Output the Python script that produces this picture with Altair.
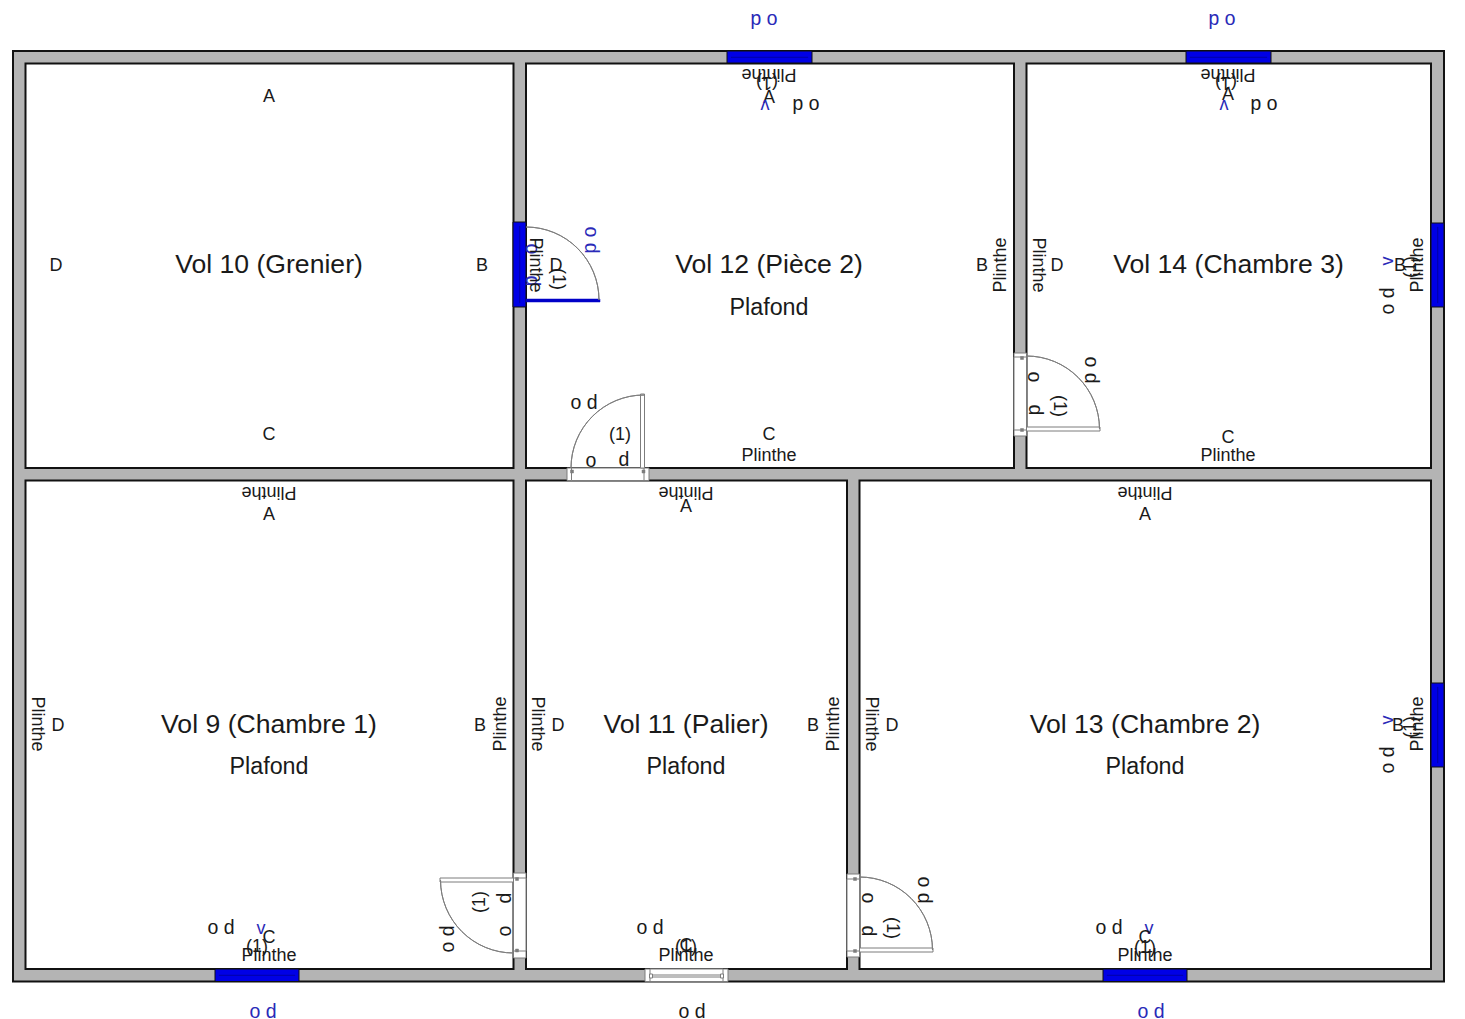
import altair as alt
import pandas as pd

FONT = "Liberation Sans"
BLACK = "#1a1a1a"
BLUE = "#2a2ab8"
WALL = "#b4b4b4"
WIN = "#0000e6"
WIN2 = "#0000a8"
GR = "#7d7d7d"

# x0, x1, y0, y1, fill, stroke, stroke width
walls = [(13, 1444, 51, 981.5, WALL, "#111111", 2)]
rooms = [
    (25.5, 513.5, 63.5, 468, "#ffffff", "#111111", 2),
    (526, 1014, 63.5, 468, "#ffffff", "#111111", 2),
    (1026.5, 1431, 63.5, 468, "#ffffff", "#111111", 2),
    (25.5, 513.5, 480.5, 969, "#ffffff", "#111111", 2),
    (526, 847, 480.5, 969, "#ffffff", "#111111", 2),
    (859.5, 1431, 480.5, 969, "#ffffff", "#111111", 2),
]
windows = [
    (727, 812, 51, 63, WIN, "#111111", 1),
    (1186, 1271, 51, 63, WIN, "#111111", 1),
    (513, 526, 222, 307, WIN, "#111111", 1),
    (1431, 1444, 223, 307, WIN, "#111111", 1),
    (1431, 1444, 683, 767, WIN, "#111111", 1),
    (215, 299, 969, 981.5, WIN, "#111111", 1),
    (1103, 1187, 969, 981.5, WIN, "#111111", 1),
]
window_lines = [
    (731, 808, 57, 57.5, WIN2, WIN2, 0.5),
    (1190, 1267, 57, 57.5, WIN2, WIN2, 0.5),
    (519.5, 520, 226, 303, WIN2, WIN2, 0.5),
    (1437.5, 1438, 227, 303, WIN2, WIN2, 0.5),
    (1437.5, 1438, 687, 763, WIN2, WIN2, 0.5),
    (219, 295, 975, 975.5, WIN2, WIN2, 0.5),
    (1107, 1183, 975, 975.5, WIN2, WIN2, 0.5),
]
frames = [
    (567, 649, 468, 480.5, "#ffffff", GR, 1),
    (571.5, 644, 468, 480.5, "#ffffff", GR, 1),
    (1014, 1026.5, 353, 436, "#ffffff", GR, 1),
    (1014, 1026.5, 357, 430, "#ffffff", GR, 1),
    (513.5, 526, 873, 958, "#ffffff", GR, 1),
    (513.5, 526, 878, 951, "#ffffff", GR, 1),
    (847, 859.5, 874, 957, "#ffffff", GR, 1),
    (847, 859.5, 879, 951, "#ffffff", GR, 1),
    (645, 728, 969, 981.5, "#ffffff", GR, 1),
    (650, 723, 969, 981.5, "#ffffff", GR, 1),
    (650, 723, 975, 977, "#ffffff", GR, 1),
]
hinges = [
    (570.5, 573.5, 470, 473, GR, GR, 0.5),
    (642, 645, 470, 473, GR, GR, 0.5),
    (1020.5, 1023.5, 356.5, 359.5, GR, GR, 0.5),
    (1020.5, 1023.5, 428.5, 431.5, GR, GR, 0.5),
    (515.5, 518.5, 877.5, 880.5, GR, GR, 0.5),
    (515.5, 518.5, 949, 952, GR, GR, 0.5),
    (853.5, 856.5, 877.5, 880.5, GR, GR, 0.5),
    (853.5, 856.5, 949.5, 952.5, GR, GR, 0.5),
    (649.5, 652.5, 974, 978, "#ffffff", GR, 1),
    (720.5, 723.5, 974, 978, "#ffffff", GR, 1),
]
leaves = [
    (526, 600, 299, 302, "#0000c8", "#0000c8", 0.5),
    (640.5, 644.5, 394, 468, "#ffffff", GR, 1),
    (1026.5, 1100, 427, 431, "#ffffff", GR, 1),
    (440, 513.5, 878, 882, "#ffffff", GR, 1),
    (859.5, 933, 948, 952, "#ffffff", GR, 1),
]
rects = walls + rooms + windows + window_lines + frames + hinges + leaves
rect_df = pd.DataFrame(rects, columns=["x0", "x1", "y0", "y1", "fill", "stroke", "sw"])
rect_df["order"] = range(len(rect_df))

# hinge x, hinge y, start angle, end angle (radians, clockwise from up), radius
PI = 3.14159265
door_arcs = [
    (526, 300, 0, PI / 2, 73),
    (644, 468, -PI / 2, 0, 73),
    (1026.5, 429, 0, PI / 2, 73),
    (513.5, 880, PI, 3 * PI / 2, 73),
    (859.5, 950, 0, PI / 2, 73),
]
arc_df = pd.DataFrame(door_arcs, columns=["x", "y", "t0", "t1", "r"])

OD = 19.5
# text, x, y, angle, colour, size
labels = [
    ("Vol 10 (Grenier)", 269, 263, 0, BLACK, 26.6),
    ("Vol 12 (Pièce 2)", 769, 263, 0, BLACK, 26.6),
    ("Vol 14 (Chambre 3)", 1228.5, 263, 0, BLACK, 26.6),
    ("Vol 9 (Chambre 1)", 269, 723, 0, BLACK, 26.6),
    ("Vol 11 (Palier)", 686, 723, 0, BLACK, 26.6),
    ("Vol 13 (Chambre 2)", 1145, 723, 0, BLACK, 26.6),
    ("Plafond", 769, 306, 0, BLACK, 23.3),
    ("Plafond", 269, 765, 0, BLACK, 23.3),
    ("Plafond", 686, 765, 0, BLACK, 23.3),
    ("Plafond", 1145, 765, 0, BLACK, 23.3),
    # Vol 10
    ("A", 269, 95, 0, BLACK, 18), ("D", 56, 264, 0, BLACK, 18),
    ("B", 482, 264, 0, BLACK, 18), ("C", 269, 433, 0, BLACK, 18),
    # Vol 12
    ("Plinthe", 769, 75, 180, BLACK, 18), ("(1)", 767, 83, 180, BLACK, 18),
    ("A", 769, 96, 0, BLACK, 18), ("v", 765, 106, 180, BLUE, 18),
    ("o d", 806, 106, 180, BLACK, OD), ("o d", 764, 21, 180, BLUE, OD),
    ("o d", 592, 240, 90, BLUE, OD), ("o", 533, 249, 90, BLUE, OD),
    ("d", 533, 281, 90, BLUE, OD), ("Plinthe", 536, 265, 90, BLACK, 18),
    ("D", 556, 264, 0, BLACK, 18), ("(1)", 559, 279, 90, BLACK, 18),
    ("B", 982, 264, 0, BLACK, 18), ("Plinthe", 999, 265, 270, BLACK, 18),
    ("C", 769, 433, 0, BLACK, 18), ("Plinthe", 769, 454, 0, BLACK, 18),
    ("o d", 584, 401, 0, BLACK, OD), ("(1)", 620, 433, 0, BLACK, 18),
    ("o", 591, 459, 0, BLACK, OD), ("d", 624, 458, 0, BLACK, OD),
    # Vol 14
    ("Plinthe", 1228, 75, 180, BLACK, 18), ("(1)", 1226, 83, 180, BLACK, 18),
    ("A", 1228, 93, 0, BLACK, 18), ("v", 1224, 106, 180, BLUE, 18),
    ("o d", 1264, 106, 180, BLACK, OD), ("o d", 1222, 21, 180, BLUE, OD),
    ("Plinthe", 1039, 265, 90, BLACK, 18), ("D", 1057, 264, 0, BLACK, 18),
    ("v", 1386, 261, 270, BLUE, 18), ("B", 1400, 264, 0, BLACK, 18),
    ("(1)", 1409, 267, 270, BLACK, 18), ("Plinthe", 1416, 265, 270, BLACK, 18),
    ("o d", 1386, 301, 270, BLACK, OD),
    ("C", 1228, 436, 0, BLACK, 18), ("Plinthe", 1228, 454, 0, BLACK, 18),
    ("o d", 1092, 370, 90, BLACK, OD), ("o", 1035, 377, 90, BLACK, OD),
    ("d", 1036, 410, 90, BLACK, OD), ("(1)", 1060, 406, 90, BLACK, 18),
    # Vol 9
    ("Plinthe", 269, 493, 180, BLACK, 18), ("A", 269, 513, 0, BLACK, 18),
    ("Plinthe", 38, 724, 90, BLACK, 18), ("D", 58, 724, 0, BLACK, 18),
    ("B", 480, 724, 0, BLACK, 18), ("Plinthe", 499, 724, 270, BLACK, 18),
    ("o d", 221, 926, 0, BLACK, OD), ("v", 261, 927, 0, BLUE, 18),
    ("C", 269, 936, 0, BLACK, 18), ("(1)", 257, 945, 0, BLACK, 18),
    ("Plinthe", 269, 954, 0, BLACK, 18), ("o d", 263, 1010, 0, BLUE, OD),
    ("o d", 446, 939, 270, BLACK, OD), ("(1)", 478, 902, 270, BLACK, 18),
    ("d", 503, 898, 270, BLACK, OD), ("o", 503, 931, 270, BLACK, OD),
    # Vol 11
    ("Plinthe", 686, 493, 180, BLACK, 18), ("A", 686, 505, 0, BLACK, 18),
    ("Plinthe", 538, 724, 90, BLACK, 18), ("D", 558, 724, 0, BLACK, 18),
    ("B", 813, 724, 0, BLACK, 18), ("Plinthe", 832, 724, 270, BLACK, 18),
    ("o d", 650, 926, 0, BLACK, OD), ("C", 686, 944, 0, BLACK, 18),
    ("(1)", 686, 945, 0, BLACK, 18), ("Plinthe", 686, 954, 0, BLACK, 18),
    ("o d", 692, 1010, 0, BLACK, OD),
    # Vol 13
    ("Plinthe", 1145, 493, 180, BLACK, 18), ("A", 1145, 513, 0, BLACK, 18),
    ("Plinthe", 872, 724, 90, BLACK, 18), ("D", 892, 724, 0, BLACK, 18),
    ("v", 1386, 720, 270, BLUE, 18), ("B", 1398, 724, 0, BLACK, 18),
    ("(1)", 1409, 727, 270, BLACK, 18), ("Plinthe", 1416, 724, 270, BLACK, 18),
    ("o d", 1386, 760, 270, BLACK, OD),
    ("o d", 1109, 926, 0, BLACK, OD), ("v", 1149, 927, 0, BLUE, 18),
    ("C", 1145, 936, 0, BLACK, 18), ("(1)", 1145, 946, 0, BLACK, 18),
    ("Plinthe", 1145, 954, 0, BLACK, 18), ("o d", 1151, 1010, 0, BLUE, OD),
    ("o d", 925, 890, 90, BLACK, OD), ("o", 869, 898, 90, BLACK, OD),
    ("d", 869, 931, 90, BLACK, OD), ("(1)", 893, 928, 90, BLACK, 18),
]
text_df = pd.DataFrame(labels, columns=["text", "x", "y", "angle", "color", "size"])

X = alt.Scale(domain=[8, 1449])
Y = alt.Scale(domain=[1019, 8])

rect_layer = alt.Chart(rect_df).mark_rect().encode(
    x=alt.X("x0:Q", scale=X, axis=None),
    x2="x1:Q",
    y=alt.Y("y0:Q", scale=Y, axis=None),
    y2="y1:Q",
    fill=alt.Fill("fill:N", scale=None),
    stroke=alt.Stroke("stroke:N", scale=None),
    strokeWidth=alt.StrokeWidth("sw:Q", scale=None),
    order="order:Q",
)

arc_layer = alt.Chart(arc_df).mark_arc(fillOpacity=0, stroke=GR, strokeWidth=1).encode(
    x=alt.X("x:Q", scale=X, axis=None),
    y=alt.Y("y:Q", scale=Y, axis=None),
    theta=alt.Theta("t0:Q", scale=None),
    theta2="t1:Q",
    radius=alt.Radius("r:Q", scale=None),
    radius2="r:Q",
)

text_layer = alt.Chart(text_df).mark_text(
    font=FONT, baseline="middle", align="center", dy=1.5
).encode(
    x=alt.X("x:Q", scale=X, axis=None),
    y=alt.Y("y:Q", scale=Y, axis=None),
    text="text:N",
    angle=alt.Angle("angle:Q", scale=None),
    color=alt.Color("color:N", scale=None),
    size=alt.Size("size:Q", scale=None),
)

chart = (
    alt.layer(rect_layer, arc_layer, text_layer)
    .properties(width=1441, height=1011, padding=0, autosize=alt.AutoSizeParams(type="none"))
    .configure_view(stroke=None)
)
chart.save("out.html", embed_options={"renderer": "svg", "actions": False})
